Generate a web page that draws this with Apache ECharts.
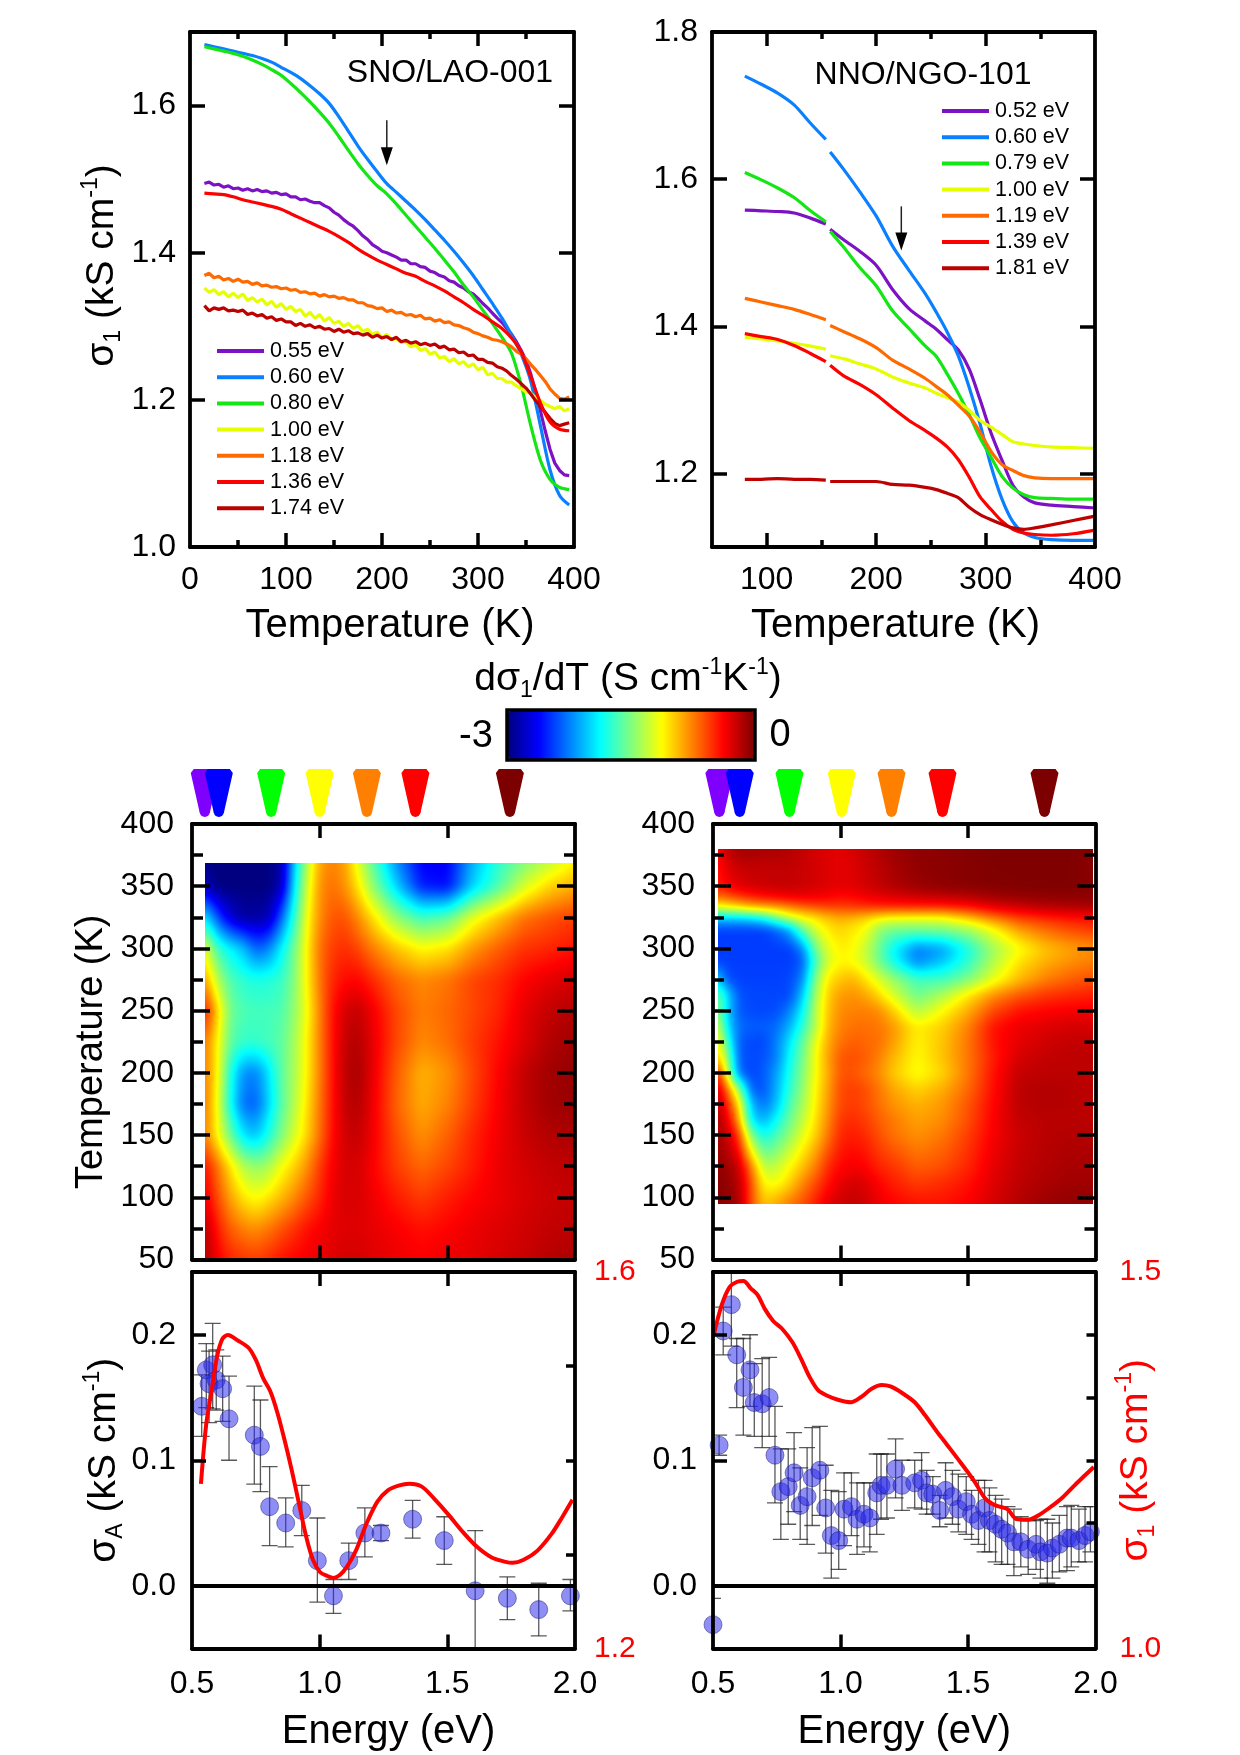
<!DOCTYPE html>
<html>
<head>
<meta charset="utf-8">
<title>Optical conductivity of nickelate films</title>
<script src="https://cdn.jsdelivr.net/npm/echarts@6/dist/echarts.min.js"></script>
<style>html,body{margin:0;padding:0;background:#fff}#chart{width:1240px;height:1755px}</style>
</head>
<body>
<div id="chart"></div>
<script>
// ---- sigma_1(T) curves, SNO/LAO-001 ----
const tempCoarseA = [15,25,35,45,55,65,75,85,95,105,115,125,135,145,155,165,175,185,195,205,215,225,235,245,255,265,275,285,295,305,315,325,335,345,355,365,375,385,395];
const tempFineA = [15,20,25,30,35,40,45,50,55,60,65,70,75,80,85,90,95,100,105,110,115,120,125,130,135,140,145,150,155,160,165,170,175,180,185,190,195,200,205,210,215,220,225,230,235,240,245,250,255,260,265,270,275,280,285,290,295,300,305,310,315,320,325,330,335,340,345,350,355,360,365,370,375,380,385,390,395];
const sno055 = [1.494,1.496,1.492,1.493,1.489,1.491,1.487,1.488,1.485,1.487,1.484,1.486,1.483,1.484,1.481,1.482,1.479,1.480,1.476,1.476,1.472,1.473,1.470,1.468,1.468,1.464,1.461,1.455,1.451,1.445,1.440,1.436,1.430,1.423,1.418,1.411,1.407,1.402,1.400,1.397,1.394,1.390,1.390,1.385,1.385,1.381,1.380,1.375,1.373,1.369,1.367,1.362,1.360,1.355,1.352,1.347,1.344,1.338,1.331,1.325,1.318,1.311,1.305,1.297,1.289,1.279,1.267,1.254,1.235,1.212,1.185,1.158,1.133,1.114,1.104,1.098,1.097];
const sno060 = [1.683,1.680,1.677,1.674,1.671,1.668,1.664,1.659,1.652,1.645,1.637,1.627,1.616,1.603,1.585,1.565,1.545,1.527,1.510,1.494,1.482,1.470,1.458,1.445,1.431,1.417,1.402,1.386,1.369,1.350,1.331,1.311,1.288,1.262,1.225,1.165,1.105,1.070,1.057];
const sno080 = [1.680,1.677,1.674,1.671,1.667,1.662,1.656,1.649,1.641,1.630,1.618,1.605,1.591,1.576,1.558,1.539,1.521,1.505,1.491,1.480,1.466,1.451,1.436,1.421,1.406,1.390,1.374,1.356,1.340,1.322,1.304,1.285,1.263,1.220,1.165,1.118,1.092,1.081,1.078];
const sno100 = [1.352,1.346,1.350,1.343,1.347,1.340,1.345,1.339,1.344,1.335,1.339,1.333,1.337,1.329,1.334,1.326,1.331,1.323,1.327,1.320,1.323,1.314,1.319,1.311,1.316,1.307,1.312,1.304,1.307,1.300,1.304,1.297,1.301,1.293,1.296,1.289,1.292,1.285,1.289,1.282,1.283,1.278,1.279,1.272,1.275,1.267,1.270,1.262,1.265,1.257,1.259,1.252,1.256,1.249,1.252,1.245,1.249,1.241,1.244,1.234,1.236,1.229,1.229,1.224,1.224,1.219,1.215,1.211,1.209,1.203,1.199,1.194,1.191,1.188,1.191,1.185,1.188];
const sno118 = [1.369,1.372,1.366,1.368,1.363,1.365,1.361,1.364,1.360,1.361,1.357,1.359,1.355,1.356,1.353,1.354,1.351,1.352,1.349,1.350,1.346,1.347,1.344,1.345,1.341,1.343,1.340,1.341,1.338,1.339,1.336,1.336,1.332,1.332,1.328,1.327,1.324,1.325,1.320,1.322,1.318,1.319,1.315,1.316,1.313,1.315,1.310,1.311,1.307,1.309,1.305,1.306,1.302,1.301,1.298,1.296,1.292,1.290,1.287,1.285,1.282,1.281,1.279,1.276,1.272,1.266,1.262,1.256,1.248,1.241,1.233,1.225,1.215,1.208,1.202,1.201,1.204];
const sno136 = [1.481,1.480,1.479,1.476,1.472,1.469,1.466,1.463,1.459,1.453,1.447,1.441,1.435,1.429,1.422,1.414,1.405,1.397,1.390,1.384,1.378,1.372,1.368,1.361,1.355,1.348,1.340,1.332,1.323,1.315,1.306,1.297,1.284,1.265,1.231,1.196,1.170,1.160,1.158];
const sno174 = [1.328,1.321,1.325,1.323,1.325,1.321,1.322,1.320,1.322,1.316,1.318,1.314,1.316,1.311,1.313,1.308,1.310,1.306,1.306,1.301,1.304,1.300,1.302,1.298,1.300,1.296,1.297,1.293,1.296,1.292,1.294,1.290,1.291,1.288,1.290,1.285,1.288,1.284,1.286,1.282,1.285,1.279,1.281,1.277,1.279,1.275,1.277,1.274,1.276,1.271,1.273,1.268,1.269,1.264,1.265,1.260,1.261,1.255,1.255,1.251,1.250,1.245,1.243,1.239,1.233,1.228,1.222,1.216,1.208,1.199,1.191,1.183,1.175,1.168,1.165,1.167,1.169];
const snoSeriesNames = ['0.55 eV','0.60 eV','0.80 eV','1.00 eV','1.18 eV','1.36 eV','1.74 eV'];
const snoArrow = [205, 1.580, 1.519];

// ---- sigma_1(T) curves, NNO/NGO-101; the null marks the break between the two scans ----
const tempB = [80,95,110,125,140,154,156,158,170,185,200,215,230,245,255,265,275,285,295,305,315,325,335,345,360,380,400];
const nno052 = [1.558,1.557,1.556,1.554,1.547,1.539,null,1.532,1.518,1.502,1.483,1.450,1.424,1.407,1.396,1.382,1.368,1.342,1.300,1.255,1.218,1.184,1.168,1.160,1.157,1.155,1.153];
const nno060 = [1.740,1.729,1.717,1.701,1.676,1.654,null,1.637,1.614,1.583,1.550,1.509,1.476,1.444,1.419,1.392,1.360,1.317,1.267,1.210,1.165,1.134,1.119,1.113,1.110,1.109,1.109];
const nno079 = [1.609,1.599,1.588,1.575,1.557,1.542,null,1.529,1.508,1.480,1.455,1.421,1.397,1.373,1.359,1.335,1.309,1.280,1.248,1.222,1.196,1.180,1.171,1.167,1.166,1.165,1.165];
const nno100 = [1.385,1.383,1.380,1.377,1.373,1.369,null,1.360,1.356,1.349,1.342,1.331,1.323,1.316,1.309,1.303,1.297,1.286,1.272,1.263,1.253,1.243,1.240,1.238,1.236,1.235,1.234];
const nno119 = [1.438,1.433,1.428,1.423,1.416,1.409,null,1.401,1.393,1.383,1.371,1.354,1.342,1.329,1.318,1.307,1.293,1.278,1.256,1.230,1.212,1.204,1.197,1.194,1.193,1.193,1.193];
const nno139 = [1.390,1.386,1.382,1.374,1.363,1.352,null,1.347,1.333,1.321,1.307,1.289,1.272,1.258,1.248,1.236,1.219,1.195,1.168,1.151,1.135,1.124,1.119,1.117,1.116,1.118,1.123];
const nno181 = [1.192,1.192,1.193,1.192,1.192,1.191,null,1.189,1.189,1.189,1.189,1.185,1.184,1.181,1.178,1.173,1.167,1.154,1.144,1.137,1.131,1.126,1.124,1.126,1.130,1.136,1.142];
const nnoSeriesNames = ['0.52 eV','0.60 eV','0.79 eV','1.00 eV','1.19 eV','1.39 eV','1.81 eV'];
const nnoArrow = [223, 1.563, 1.503];

const curveColors = ['#7d12c4','#0a80ff','#14e614','#e6ff00','#ff6a00','#ff0000','#bd0000'];

// ---- d sigma_1 / dT maps (S cm-1 K-1), rows run from high T to low T ----
const mapEnergyL = [0.55,0.60,0.65,0.70,0.75,0.80,0.85,0.90,0.95,1.00,1.05,1.10,1.15,1.20,1.30,1.40,1.50,1.60,1.70,1.80,1.90,2.00];
const mapTempL = [369,350,325,300,275,250,225,200,175,150,125,100,75,50];
const mapValuesL = [
 [-3,-3,-3,-3,-3,-3,-2.9,-2.05,-1.35,-.85,-.75,-.85,-1.2,-1.55,-2.2,-2.65,-2.65,-2.1,-1.75,-1.5,-1.3,-1.1],
 [-2.8,-3,-3,-3,-3,-3,-2.85,-1.95,-1.25,-.8,-.7,-.8,-1.05,-1.4,-2.0,-2.55,-2.6,-2.0,-1.65,-1.25,-1.0,-.88],
 [-1.9,-2.4,-2.75,-2.9,-2.9,-2.85,-2.35,-1.75,-1.15,-.78,-.62,-.62,-.78,-1.0,-1.45,-1.7,-1.6,-1.2,-.95,-.72,-.62,-.55],
 [-1.15,-1.7,-1.9,-2.05,-2.35,-2.25,-1.9,-1.55,-1.1,-.7,-.55,-.5,-.58,-.72,-.95,-1.12,-1.05,-.82,-.65,-.52,-.48,-.42],
 [-.8,-1.35,-1.65,-1.75,-1.8,-1.78,-1.72,-1.5,-1.1,-.72,-.48,-.4,-.38,-.48,-.68,-.78,-.72,-.58,-.5,-.38,-.3,-.25],
 [-.4,-1.0,-1.55,-1.65,-1.68,-1.68,-1.65,-1.45,-1.15,-.75,-.42,-.25,-.2,-.32,-.58,-.74,-.68,-.58,-.48,-.3,-.2,-.15],
 [-.7,-1.1,-1.6,-1.72,-1.72,-1.68,-1.6,-1.4,-1.1,-.75,-.42,-.2,-.15,-.28,-.58,-.78,-.7,-.55,-.42,-.28,-.15,-.1],
 [-.72,-1.1,-1.8,-2.2,-2.25,-1.95,-1.6,-1.38,-1.1,-.75,-.42,-.18,-.12,-.28,-.64,-.9,-.8,-.58,-.38,-.2,-.1,-.06],
 [-.7,-1.15,-1.85,-2.3,-2.35,-2.0,-1.62,-1.35,-1.05,-.72,-.42,-.2,-.15,-.3,-.66,-.88,-.76,-.55,-.36,-.2,-.1,-.08],
 [-.72,-1.12,-1.55,-1.95,-2.05,-1.8,-1.5,-1.25,-1.0,-.7,-.4,-.24,-.2,-.32,-.6,-.8,-.66,-.48,-.34,-.22,-.15,-.13],
 [-.4,-.72,-1.05,-1.35,-1.45,-1.38,-1.15,-1.0,-.8,-.55,-.35,-.26,-.25,-.35,-.55,-.68,-.58,-.45,-.32,-.25,-.2,-.18],
 [-.3,-.6,-.85,-1.05,-1.15,-1.05,-.92,-.78,-.62,-.48,-.32,-.26,-.26,-.32,-.45,-.55,-.46,-.38,-.32,-.26,-.22,-.2],
 [-.15,-.45,-.65,-.75,-.8,-.72,-.62,-.52,-.42,-.36,-.3,-.28,-.28,-.3,-.36,-.42,-.38,-.32,-.28,-.24,-.2,-.18],
 [-.12,-.35,-.48,-.52,-.55,-.5,-.42,-.38,-.34,-.32,-.28,-.25,-.25,-.28,-.32,-.36,-.32,-.3,-.26,-.22,-.16,-.13]
];
const mapEnergyR = [0.52,0.55,0.60,0.65,0.70,0.75,0.80,0.85,0.90,0.95,1.00,1.05,1.10,1.15,1.20,1.30,1.40,1.50,1.60,1.70,1.80,1.90,1.99];
const mapTempR = [380,365,350,340,332,325,315,300,290,275,262,250,237,225,212,200,187,175,162,150,125,112,95];
const mapValuesR = [
 [-.4,-.2,-.1,-.1,-.12,-.12,-.15,-.2,-.25,-.28,-.3,-.25,-.2,-.15,-.1,-.05,-.04,-.02,0,0,0,0,0],
 [-.45,-.3,-.22,-.2,-.2,-.2,-.2,-.22,-.25,-.28,-.3,-.28,-.22,-.18,-.12,-.05,-.03,-.02,0,0,0,0,-.05],
 [-.45,-.38,-.28,-.24,-.22,-.2,-.2,-.22,-.25,-.28,-.3,-.28,-.24,-.2,-.15,-.08,-.04,-.02,-.01,0,0,0,-.02],
 [-.75,-.7,-.6,-.52,-.45,-.42,-.38,-.36,-.36,-.38,-.42,-.4,-.36,-.32,-.3,-.26,-.23,-.2,-.12,-.08,-.06,-.05,-.05],
 [-1.3,-1.25,-1.15,-1.05,-1.0,-.95,-.85,-.75,-.68,-.62,-.6,-.58,-.56,-.55,-.55,-.55,-.55,-.48,-.35,-.28,-.2,-.18,-.15],
 [-2.0,-2.0,-2.0,-1.95,-1.8,-1.5,-1.25,-1.12,-1.05,-.95,-.88,-.92,-1.0,-1.1,-1.15,-1.17,-1.15,-.95,-.72,-.55,-.48,-.42,-.4],
 [-2.45,-2.45,-2.45,-2.45,-2.45,-2.35,-2.15,-1.6,-1.25,-1.08,-1.0,-1.08,-1.15,-1.45,-1.55,-1.55,-1.52,-1.42,-1.15,-.85,-.7,-.6,-.55],
 [-2.45,-2.45,-2.45,-2.45,-2.45,-2.45,-2.45,-2.25,-1.55,-1.2,-1.08,-1.12,-1.3,-1.55,-1.85,-2.25,-2.15,-1.8,-1.4,-1.15,-.95,-.85,-.8],
 [-2.45,-2.45,-2.45,-2.45,-2.45,-2.45,-2.45,-2.38,-1.7,-1.25,-1.1,-1.15,-1.28,-1.55,-1.8,-2.25,-2.05,-1.75,-1.35,-1.05,-.9,-.8,-.75],
 [-1.9,-2.38,-2.44,-2.44,-2.44,-2.44,-2.42,-2.25,-1.5,-1.05,-.95,-.9,-1.05,-1.22,-1.4,-1.68,-1.68,-1.5,-1.18,-.92,-.75,-.65,-.6],
 [-1.5,-1.9,-2.38,-2.42,-2.42,-2.42,-2.42,-2.05,-1.4,-.98,-.82,-.8,-.85,-1.0,-1.2,-1.55,-1.35,-1.05,-.78,-.62,-.52,-.48,-.45],
 [-1.4,-1.95,-2.36,-2.42,-2.42,-2.4,-2.25,-1.9,-1.35,-.95,-.78,-.75,-.75,-.78,-.95,-1.35,-1.12,-.88,-.58,-.42,-.38,-.35,-.35],
 [-1.1,-1.9,-2.3,-2.35,-2.35,-2.3,-2.1,-1.75,-1.35,-.92,-.75,-.7,-.7,-.72,-.8,-1.08,-.98,-.75,-.42,-.32,-.28,-.25,-.25],
 [-1.0,-1.6,-2.36,-2.42,-2.42,-2.25,-1.95,-1.6,-1.2,-.88,-.7,-.65,-.68,-.7,-.82,-1.1,-.95,-.72,-.42,-.3,-.24,-.2,-.2],
 [-.9,-1.3,-2.36,-2.42,-2.38,-2.25,-1.85,-1.55,-1.15,-.85,-.62,-.6,-.65,-.75,-.9,-1.12,-.95,-.72,-.45,-.25,-.2,-.18,-.18],
 [-.4,-1.1,-2.3,-2.44,-2.36,-2.15,-1.8,-1.5,-1.15,-.88,-.62,-.62,-.7,-.78,-.95,-1.15,-1.0,-.72,-.42,-.2,-.18,-.18,-.18],
 [-.2,-.6,-1.4,-2.36,-2.38,-2.1,-1.75,-1.45,-1.12,-.85,-.58,-.55,-.6,-.72,-.85,-1.0,-.88,-.68,-.4,-.18,-.15,-.16,-.18],
 [-.15,-.4,-1.0,-2.1,-2.3,-2.05,-1.65,-1.4,-1.1,-.82,-.58,-.55,-.6,-.7,-.8,-.9,-.82,-.62,-.38,-.18,-.15,-.16,-.18],
 [-.12,-.25,-.8,-1.95,-2.1,-1.85,-1.55,-1.32,-1.05,-.78,-.52,-.5,-.55,-.65,-.72,-.85,-.78,-.6,-.36,-.2,-.17,-.17,-.18],
 [-.1,-.2,-.5,-1.5,-1.85,-1.65,-1.45,-1.2,-1.0,-.72,-.48,-.45,-.5,-.6,-.7,-.8,-.72,-.55,-.35,-.22,-.17,-.15,-.15],
 [-.05,-.08,-.2,-.75,-1.35,-1.3,-1.12,-.95,-.75,-.5,-.38,-.35,-.38,-.48,-.52,-.65,-.6,-.48,-.3,-.2,-.15,-.12,-.12],
 [-.03,-.05,-.15,-.6,-1.15,-1.15,-1.0,-.78,-.6,-.42,-.3,-.25,-.28,-.38,-.45,-.55,-.5,-.42,-.28,-.18,-.13,-.1,-.1],
 [-.03,-.05,-.1,-.6,-.95,-.85,-.72,-.6,-.45,-.3,-.22,-.2,-.24,-.32,-.37,-.42,-.42,-.36,-.25,-.15,-.08,-.05,-.05]
];
const jetColors = ['#000080','#0000ff','#0080ff','#00ffff','#80ff80','#ffff00','#ff8000','#ff0000','#800000'];

// ---- photon-energy markers above each map ----
const markerColors = ['#8000ff','#0000ff','#00ff00','#ffff00','#ff8000','#ff0000','#7d0000'];
const markerEnergyL = [0.55,0.605,0.81,1.00,1.185,1.375,1.745];
const markerEnergyR = [0.525,0.605,0.80,1.005,1.20,1.40,1.80];

// ---- sigma_A(E) points with error limits, and sigma_1(E) ----
const ampEnergyL = [.538,.556,.567,.581,.595,.62,.645,.744,.768,.804,.867,.93,.991,1.054,1.114,1.177,1.24,1.364,1.488,1.609,1.735,1.858,1.982];
const ampValueL = [.143,.172,.161,.176,.164,.157,.133,.120,.111,.063,.050,.060,.020,-.008,.020,.042,.042,.053,.036,-.004,-.010,-.019,-.008];
const ampHighL = [.168,.193,.187,.209,.188,.183,.167,.159,.148,.095,.070,.080,.054,.005,.034,.062,.048,.068,.055,.044,.007,.002,.005];
const ampLowL = [.119,.142,.130,.141,.140,.131,.100,.081,.075,.032,.031,.040,-.013,-.022,.005,.023,.036,.038,.017,-.06,-.027,-.04,-.02];
const condEnergyL = [.535,.556,.577,.598,.619,.64,.681,.723,.751,.779,.807,.835,.863,.891,.919,.947,.974,1.002,1.03,1.054,1.079,1.107,1.142,1.184,1.226,1.267,1.309,1.351,1.40,1.449,1.505,1.56,1.616,1.672,1.728,1.756,1.797,1.853,1.909,1.951,1.99];
const condValueL = [1.375,1.439,1.474,1.510,1.529,1.533,1.527,1.519,1.506,1.487,1.473,1.450,1.421,1.389,1.354,1.319,1.294,1.281,1.277,1.275,1.278,1.287,1.304,1.333,1.356,1.368,1.373,1.375,1.372,1.359,1.342,1.324,1.308,1.297,1.292,1.291,1.294,1.304,1.322,1.340,1.358];

const ampEnergyR = [.5,.524,.54,.572,.593,.619,.645,.662,.693,.72,.743,.766,.795,.818,.842,.869,.889,.919,.942,.964,.993,1.014,1.043,1.065,1.092,1.115,1.142,1.159,1.182,1.216,1.241,1.291,1.318,1.338,1.362,1.389,1.412,1.439,1.462,1.493,1.514,1.541,1.565,1.584,1.608,1.632,1.655,1.68,1.707,1.736,1.767,1.784,1.811,1.831,1.858,1.888,1.905,1.935,1.959,1.98];
const ampValueR = [-.031,.112,.203,.224,.184,.158,.172,.146,.145,.150,.104,.075,.079,.090,.064,.071,.086,.092,.062,.040,.036,.061,.063,.053,.057,.054,.074,.080,.080,.093,.080,.082,.084,.074,.073,.060,.076,.071,.061,.067,.057,.052,.062,.052,.049,.045,.042,.035,.035,.029,.033,.027,.026,.030,.033,.038,.038,.036,.040,.043];
const ampHighR = [-.01,.120,.222,.26,.197,.197,.20,.177,.181,.182,.143,.109,.109,.122,.094,.110,.126,.127,.096,.076,.075,.090,.090,.082,.082,.082,.105,.105,.105,.117,.100,.100,.106,.092,.087,.072,.098,.092,.089,.087,.076,.084,.084,.078,.072,.069,.063,.061,.055,.052,.052,.053,.053,.050,.056,.063,.064,.061,.063,.063];
const ampLowR = [-.06,.104,.184,.191,.142,.120,.143,.119,.110,.119,.066,.037,.049,.059,.037,.033,.048,.056,.026,.006,.013,.032,.040,.025,.031,.027,.041,.053,.054,.070,.060,.062,.061,.057,.057,.047,.054,.049,.043,.041,.037,.033,.027,.027,.019,.017,.017,.008,.015,.009,.013,.006,.002,.006,.011,.012,.015,.019,.019,.027];
const condEnergyR = [.504,.534,.565,.595,.619,.649,.676,.703,.736,.77,.811,.845,.878,.912,.946,.993,1.041,1.081,1.122,1.162,1.196,1.243,1.291,1.331,1.378,1.419,1.473,1.527,1.568,1.608,1.655,1.689,1.736,1.777,1.824,1.872,1.919,1.959,1.993];
const condValueR = [1.418,1.456,1.48,1.487,1.488,1.478,1.469,1.451,1.435,1.425,1.407,1.385,1.361,1.343,1.336,1.33,1.327,1.334,1.345,1.35,1.348,1.339,1.327,1.31,1.288,1.27,1.246,1.221,1.199,1.19,1.185,1.172,1.171,1.177,1.188,1.201,1.217,1.23,1.241];

// ---- tick lists ----
const tempTicksMajorA = [100,200,300];
const tempTicksMinorA = [50,150,250,350];
const tempLabelsA = [0,100,200,300,400];
const sigmaTicksA = [1.2,1.4,1.6];
const sigmaLabelsA = [1.0,1.2,1.4,1.6];
const tempTicksMajorB = [100,200,300];
const tempTicksMinorB = [150,250,350];
const tempLabelsB = [100,200,300,400];
const sigmaTicksB = [1.2,1.4,1.6];
const sigmaLabelsB = [1.2,1.4,1.6,1.8];
const mapTempTicksMajor = [100,150,200,250,300,350];
const mapTempTicksMinor = [75,125,175,225,275,325,375];
const mapTempLabels = [50,100,150,200,250,300,350,400];
const energyTicks = [1.0,1.5];
const energyLabels = [0.5,1.0,1.5,2.0];
const ampTicks = [0.1,0.2];
const ampLabels = [0.0,0.1,0.2];
const condTicksL = [1.3,1.4,1.5];
const condLabelsL = [1.2,1.6];
const condTicksR = [1.1667,1.25,1.3333,1.4167];
const condLabelsR = [1.0,1.5];

// ---- layout ----
const FONT = 'Liberation Sans';
const frames = [
  {left:190, right:1240-574,    top:32,   bottom:1755-547},
  {left:712, right:1240-1095,   top:32,   bottom:1755-547},
  {left:192, right:1240-575,    top:824,  bottom:1755-1259.5},
  {left:713, right:1240-1095.5, top:824,  bottom:1755-1259.5},
  {left:192, right:1240-575,    top:1272, bottom:1755-1648.5},
  {left:713, right:1240-1095.5, top:1272, bottom:1755-1648.5}
];
const xAxes = [], yAxes = [];
const fmt1 = v => v.toFixed(1);
const sigmaRich = {
  b:{fontSize:39, lineHeight:46, fontFamily:FONT},
  sub:{fontSize:23, lineHeight:24, fontFamily:FONT, verticalAlign:'bottom'},
  sup:{fontSize:23, lineHeight:24, fontFamily:FONT, verticalAlign:'top'}
};

// One axis line of a panel frame, optionally with tick labels and a title.
function addAxis(dim, grid, position, min, max, ticks, tickLen, opts) {
  opts = opts || {};
  const list = dim === 'x' ? xAxes : yAxes;
  const color = opts.color || '#000';
  const axis = {
    type:'value', gridIndex:grid, position, min, max, z:5,
    axisLine:{show:opts.line !== false, onZero:false, lineStyle:{color:'#000', width:3.8}},
    axisTick:{show:ticks.length > 0, inside:true, length:tickLen, customValues:ticks, lineStyle:{color:'#000', width:3.5}},
    splitLine:{show:false},
    axisLabel:opts.labels ? {
      show:true, customValues:opts.labels, formatter:opts.format || fmt1,
      fontSize:opts.labelSize || 32, fontFamily:FONT, color, margin:opts.margin || 14
    } : {show:false}
  };
  if (opts.name) {
    axis.name = opts.name;
    axis.nameLocation = 'middle';
    axis.nameGap = opts.nameGap;
    axis.nameMoveOverlap = false;
    if (dim === 'y') axis.nameRotate = 90;
    axis.nameTextStyle = Object.assign({fontSize:40, fontFamily:FONT, color, rich:sigmaRichFor(color)}, opts.nameStyle || {});
  }
  list.push(axis);
  return list.length - 1;
}
function sigmaRichFor(color) {
  return {b:Object.assign({color}, sigmaRich.b), sub:Object.assign({color}, sigmaRich.sub), sup:Object.assign({color}, sigmaRich.sup)};
}

// ---- panel frames ----
const ax = {};
// SNO curves
ax.a = {x:addAxis('x',0,'bottom',0,400,tempTicksMajorA,14,{labels:tempLabelsA,format:v=>String(v),name:'Temperature (K)',nameGap:59,nameStyle:{padding:[0,0,0,16]},margin:17}),
        y:addAxis('y',0,'left',1.0,1.7,sigmaTicksA,15,{labels:sigmaLabelsA,name:'{b|\u03c3}{sub|1}{b| (kS cm}{sup|-1}{b|)}',nameGap:65,nameStyle:{padding:[0,0,0,48]}})};
addAxis('x',0,'bottom',0,400,tempTicksMinorA,7,{line:false});
addAxis('x',0,'top',0,400,tempTicksMajorA,14);
addAxis('x',0,'top',0,400,tempTicksMinorA,7,{line:false});
addAxis('y',0,'right',1.0,1.7,sigmaTicksA,15);
// NNO curves
ax.b = {x:addAxis('x',1,'bottom',50,400,tempTicksMajorB,14,{labels:tempLabelsB,format:v=>String(v),name:'Temperature (K)',nameGap:59,nameStyle:{padding:[0,16,0,0]},margin:17}),
        y:addAxis('y',1,'left',1.1,1.8,sigmaTicksB,15,{labels:sigmaLabelsB})};
addAxis('x',1,'bottom',50,400,tempTicksMinorB,7,{line:false});
addAxis('x',1,'top',50,400,tempTicksMajorB,14);
addAxis('x',1,'top',50,400,tempTicksMinorB,7,{line:false});
addAxis('y',1,'right',1.1,1.8,sigmaTicksB,15);
// Maps
ax.c = {x:addAxis('x',2,'bottom',0.5,2.0,energyTicks,14),
        y:addAxis('y',2,'left',50,400,mapTempTicksMajor,18,{labels:mapTempLabels,format:v=>String(v),margin:18,name:'Temperature (K)',nameGap:81,nameStyle:{fontSize:38,padding:[0,20,0,0]}})};
addAxis('x',2,'top',0.5,2.0,energyTicks,14);
addAxis('y',2,'left',50,400,mapTempTicksMinor,11,{line:false});
addAxis('y',2,'right',50,400,mapTempTicksMajor,18);
addAxis('y',2,'right',50,400,mapTempTicksMinor,11,{line:false});
ax.d = {x:addAxis('x',3,'bottom',0.5,2.0,energyTicks,14),
        y:addAxis('y',3,'left',50,400,mapTempTicksMajor,18,{labels:mapTempLabels,format:v=>String(v),margin:18})};
addAxis('x',3,'top',0.5,2.0,energyTicks,14);
addAxis('y',3,'left',50,400,mapTempTicksMinor,11,{line:false});
addAxis('y',3,'right',50,400,mapTempTicksMajor,18);
addAxis('y',3,'right',50,400,mapTempTicksMinor,11,{line:false});
// Amplitude panels
ax.e = {x:addAxis('x',4,'bottom',0.5,2.0,energyTicks,14,{labels:energyLabels,margin:20,name:'Energy (eV)',nameGap:63,nameStyle:{padding:[0,0,0,10]}}),
        y:addAxis('y',4,'left',-0.05,0.25,ampTicks,14,{labels:ampLabels,margin:16,name:'{b|\u03c3}{sub|A}{b| (kS cm}{sup|-1}{b|)}',nameGap:65}),
        y2:addAxis('y',4,'right',1.2,1.6,condTicksL,9,{labels:condLabelsL,color:'#ff0000',labelSize:30,margin:19})};
addAxis('x',4,'top',0.5,2.0,energyTicks,14);
ax.f = {x:addAxis('x',5,'bottom',0.5,2.0,energyTicks,14,{labels:energyLabels,margin:20,name:'Energy (eV)',nameGap:63}),
        y:addAxis('y',5,'left',-0.05,0.25,ampTicks,14,{labels:ampLabels,margin:16}),
        y2:addAxis('y',5,'right',1.0,1.5,condTicksR,9,{labels:condLabelsR,color:'#ff0000',labelSize:30,margin:24,
          name:'{b|\u03c3}{sub|1}{b| (kS cm}{sup|-1}{b|)}',nameGap:18,nameStyle:{color:'#ff0000'}})};
addAxis('x',5,'top',0.5,2.0,energyTicks,14);

// ---- series helpers ----
const zip = (xs, ys) => xs.map((x, i) => [x, ys[i]]);
function curve(name, xs, ys, color, axes, smooth, width) {
  return {type:'line', name, data:zip(xs, ys), xAxisIndex:axes.x, yAxisIndex:axes.y,
    showSymbol:false, symbol:'none', smooth:smooth ? 0.3 : false, connectNulls:false, silent:true,
    lineStyle:{color, width:width || 3.2}, itemStyle:{color}};
}
// Short downward arrow marking the kink in the 0.60 eV curve.
function arrow(spec, axes) {
  return {type:'custom', xAxisIndex:axes.x, yAxisIndex:axes.y, silent:true, z:6,
    data:[spec], encode:{x:0, y:[1,2]},
    renderItem(params, api) {
      const a = api.coord([api.value(0), api.value(1)]);
      const b = api.coord([api.value(0), api.value(2)]);
      return {type:'group', children:[
        {type:'line', shape:{x1:a[0],y1:a[1],x2:b[0],y2:b[1]-12}, style:{stroke:'#222',lineWidth:1.5}},
        {type:'polygon', shape:{points:[[b[0]-6,b[1]-18],[b[0]+6,b[1]-18],[b[0],b[1]]]}, style:{fill:'#000'}}
      ]};
    }};
}
// Vertical error limits with end caps.
function errorBars(energy, low, high, axes) {
  return {type:'custom', xAxisIndex:axes.x, yAxisIndex:axes.y, silent:true, clip:true,
    data:energy.map((e, i) => [e, low[i], high[i]]), encode:{x:0, y:[1,2]},
    renderItem(params, api) {
      const l = api.coord([api.value(0), api.value(1)]);
      const h = api.coord([api.value(0), api.value(2)]);
      const style = {stroke:'rgba(35,35,35,0.75)', lineWidth:1.3};
      const cs = params.coordSys;
      const clip = {x:cs.x, y:cs.y, width:cs.width, height:cs.height};
      return {type:'group', children:[
        {type:'line', shape:{x1:l[0],y1:l[1],x2:h[0],y2:h[1]}, style},
        {type:'line', shape:{x1:l[0]-8,y1:l[1],x2:l[0]+8,y2:l[1]}, style},
        {type:'line', shape:{x1:h[0]-8,y1:h[1],x2:h[0]+8,y2:h[1]}, style}
      ], clipPath:{type:'rect', shape:clip}};
    }};
}
function points(energy, value, axes) {
  return {type:'scatter', data:zip(energy, value), xAxisIndex:axes.x, yAxisIndex:axes.y, silent:true,
    symbolSize:18, clip:true,
    itemStyle:{color:'rgba(40,40,235,0.66)', borderColor:'rgba(25,25,110,0.6)', borderWidth:1},
    markLine:{silent:true, symbol:'none', animation:false, label:{show:false},
      lineStyle:{color:'#000', width:3.8, type:'solid'}, data:[{yAxis:0}]}};
}
// Rounded downward wedge above the map, one per photon energy.
function markers(energy, axes) {
  return {type:'custom', xAxisIndex:axes.x, yAxisIndex:axes.y, silent:true, clip:false, z:7,
    data:energy.map(e => [e, 400]), encode:{x:0, y:1},
    renderItem(params, api) {
      const c = api.coord([api.value(0), api.value(1)]);
      const color = markerColors[params.dataIndex];
      const style = {fill:color};
      return {type:'group', children:[
        {type:'polygon', shape:{points:[[c[0]-14,c[1]-51],[c[0]-11,c[1]-55],[c[0]+11,c[1]-55],[c[0]+14,c[1]-51],[c[0]+5,c[1]-11],[c[0]-5,c[1]-11]]}, style},
        {type:'circle', shape:{cx:c[0], cy:c[1]-12, r:5}, style}
      ]};
    }};
}

// Paints one map into a canvas: the read grid is shaded across each cell,
// softened the way a plotting package's smooth shading does, then colour-mapped.
const jetRGB = jetColors.map(h => [1,3,5].map(i => parseInt(h.substr(i,2),16)));
function paintField(Es, Ts, M, w, h) {
  const f = new Float32Array(w*h);
  const E0 = Es[0], E1 = Es[Es.length-1], T0 = Ts[0], T1 = Ts[Ts.length-1];
  let r = 0;
  for (let y = 0; y < h; y++) {
    const T = T0 + (T1-T0)*(y+0.5)/h;
    while (r < Ts.length-2 && T < Ts[r+1]) r++;
    const tr = Math.min(1, Math.max(0, (Ts[r]-T)/(Ts[r]-Ts[r+1])));
    let c = 0;
    for (let x = 0; x < w; x++) {
      const E = E0 + (E1-E0)*(x+0.5)/w;
      while (c < Es.length-2 && E > Es[c+1]) c++;
      const tc = Math.min(1, Math.max(0, (E-Es[c])/(Es[c+1]-Es[c])));
      const top = M[r][c]*(1-tc) + M[r][c+1]*tc;
      const bot = M[r+1][c]*(1-tc) + M[r+1][c+1]*tc;
      f[y*w+x] = top*(1-tr) + bot*tr;
    }
  }
  const soften = (radius) => {
    const g = new Float32Array(f.length);
    for (let y = 0; y < h; y++) for (let x = 0; x < w; x++) {
      let s = 0;
      for (let d = -radius; d <= radius; d++) s += f[y*w + Math.min(w-1, Math.max(0, x+d))];
      g[y*w+x] = s/(2*radius+1);
    }
    for (let y = 0; y < h; y++) for (let x = 0; x < w; x++) {
      let s = 0;
      for (let d = -radius; d <= radius; d++) s += g[Math.min(h-1, Math.max(0, y+d))*w + x];
      f[y*w+x] = s/(2*radius+1);
    }
  };
  soften(5); soften(5);
  const cv = document.createElement('canvas');
  cv.width = w; cv.height = h;
  const ctx = cv.getContext('2d');
  const img = ctx.createImageData(w, h);
  for (let i = 0; i < f.length; i++) {
    const t = Math.min(0.9999, Math.max(0, (f[i]+3)/3))*(jetRGB.length-1);
    const k = Math.floor(t), u = t-k;
    for (let ch = 0; ch < 3; ch++) img.data[i*4+ch] = jetRGB[k][ch]*(1-u) + jetRGB[k+1][ch]*u;
    img.data[i*4+3] = 255;
  }
  ctx.putImageData(img, 0, 0);
  return cv;
}
function dTmap(Es, Ts, M, axes) {
  const data = [];
  Ts.forEach((t, r) => Es.forEach((e, c) => data.push([e, t, M[r][c]])));
  let canvas = null;
  return {type:'custom', name:'map', xAxisIndex:axes.x, yAxisIndex:axes.y, silent:true, clip:false, z:1,
    data, encode:{x:0, y:1},
    renderItem(params, api) {
      if (params.dataIndex !== 0) return null;
      const a = api.coord([Es[0], Ts[0]]);
      const b = api.coord([Es[Es.length-1], Ts[Ts.length-1]]);
      const w = Math.round(b[0]-a[0]), h = Math.round(b[1]-a[1]);
      if (!canvas) canvas = paintField(Es, Ts, M, w, h);
      return {type:'image', style:{image:canvas, x:a[0], y:a[1], width:w, height:h}};
    }};
}

// ---- series ----
const series = [
  curve(snoSeriesNames[0], tempFineA, sno055, curveColors[0], ax.a),
  curve(snoSeriesNames[1], tempCoarseA, sno060, curveColors[1], ax.a, true),
  curve(snoSeriesNames[2], tempCoarseA, sno080, curveColors[2], ax.a, true),
  curve(snoSeriesNames[3], tempFineA, sno100, curveColors[3], ax.a),
  curve(snoSeriesNames[4], tempFineA, sno118, curveColors[4], ax.a),
  curve(snoSeriesNames[6], tempFineA, sno174, curveColors[6], ax.a),
  curve(snoSeriesNames[5], tempCoarseA, sno136, curveColors[5], ax.a, true),
  arrow(snoArrow, ax.a),
  curve(nnoSeriesNames[0], tempB, nno052, curveColors[0], ax.b, true),
  curve(nnoSeriesNames[1], tempB, nno060, curveColors[1], ax.b, true),
  curve(nnoSeriesNames[2], tempB, nno079, curveColors[2], ax.b, true),
  curve(nnoSeriesNames[3], tempB, nno100, curveColors[3], ax.b, true),
  curve(nnoSeriesNames[4], tempB, nno119, curveColors[4], ax.b, true),
  curve(nnoSeriesNames[5], tempB, nno139, curveColors[5], ax.b, true),
  curve(nnoSeriesNames[6], tempB, nno181, curveColors[6], ax.b, true),
  arrow(nnoArrow, ax.b),
  markers(markerEnergyL, ax.c),
  markers(markerEnergyR, ax.d),
  errorBars(ampEnergyL, ampLowL, ampHighL, ax.e),
  points(ampEnergyL, ampValueL, ax.e),
  curve('\u03c31 SNO', condEnergyL, condValueL, '#ff0000', {x:ax.e.x, y:ax.e.y2}, true, 4),
  errorBars(ampEnergyR, ampLowR, ampHighR, ax.f),
  points(ampEnergyR, ampValueR, ax.f),
  curve('\u03c31 NNO', condEnergyR, condValueR, '#ff0000', {x:ax.f.x, y:ax.f.y2}, true, 4)
];
const mapStart = series.length;
series.push(dTmap(mapEnergyL, mapTempL, mapValuesL, ax.c));
series.push(dTmap(mapEnergyR, mapTempR, mapValuesR, ax.d));

function label(text, x, y, size, extra) {
  return Object.assign({type:'text', x, y, z:20, silent:true, style:Object.assign({
    text, fontSize:size, fontFamily:FONT, fill:'#000', align:'center', verticalAlign:'middle'}, extra && extra.style || {})},
    extra && extra.el || {});
}

function legendFor(names, left, top) {
  return {data:names, orient:'vertical', left, top, icon:'rect', itemWidth:47, itemHeight:4, itemGap:4.2, selectedMode:false, padding:0,
    textStyle:{fontFamily:FONT, fontSize:21.5, color:'#000', padding:[0,0,0,1]}};
}

const chart = echarts.init(document.getElementById('chart'));
chart.setOption({
  animation:false,
  backgroundColor:'#fff',
  grid:frames.map(f => Object.assign({containLabel:false, show:false}, f)),
  xAxis:xAxes,
  yAxis:yAxes,
  series,
  legend:[legendFor(snoSeriesNames, 217, 340), legendFor(nnoSeriesNames, 942, 100)],
  visualMap:{type:'continuous', min:-3, max:0, seriesIndex:[mapStart, mapStart+1], dimension:2,
    orient:'horizontal', left:508, top:711, itemWidth:48, itemHeight:246, calculable:false, hoverLink:false,
    padding:0, text:null, inRange:{color:jetColors}},
  graphic:{elements:[
    {type:'rect', z:20, silent:true, shape:{x:507,y:710,width:248,height:50}, style:{fill:'none', stroke:'#000', lineWidth:3.5}},
    label('-3', 476, 737, 38),
    label('0', 780, 736, 38),
    label('{b|d\u03c3}{sub|1}{b|/dT (S cm}{sup|-1}{b|K}{sup|-1}{b|)}', 628, 679, 39, {style:{rich:sigmaRich}}),
    label('SNO/LAO-001', 450, 73, 32),
    label('NNO/NGO-101', 923, 75, 32)
  ]}
});
</script>
</body>
</html>
